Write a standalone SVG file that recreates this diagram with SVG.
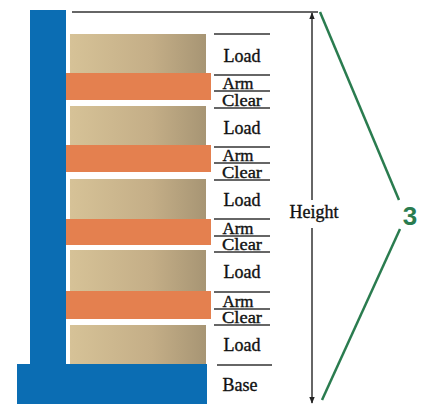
<svg xmlns="http://www.w3.org/2000/svg" width="434" height="404" viewBox="0 0 434 404">
  <defs>
    <linearGradient id="loadFill" x1="0" y1="0" x2="1" y2="0">
      <stop offset="0" stop-color="#d6c297"/>
      <stop offset="0.6" stop-color="#c4ae87"/>
      <stop offset="1" stop-color="#a79574"/>
    </linearGradient>
    <marker id="arrow" viewBox="0 0 10 10" refX="9" refY="5" markerWidth="7" markerHeight="7" orient="auto-start-reverse" markerUnits="userSpaceOnUse">
      <path d="M0,1 L10,5 L0,9 Z" fill="#222"/>
    </marker>
  </defs>
  <style>
    .mast { fill: #0b6db3; }
    .load { fill: url(#loadFill); }
    .arm { fill: #e4804f; }
    .rule { stroke: #333; stroke-width: 1.5; fill: none; }
    .lbl { font-family: "Liberation Serif", "DejaVu Serif", serif; fill: #111; stroke: #111; stroke-width: 0.35; text-anchor: middle; }
    .big { font-size: 18px; }
    .small { font-size: 16px; }
    .brace { stroke: #2a7c4f; stroke-width: 2.5; fill: none; }
    .num { font-family: "Liberation Sans", Arial, sans-serif; font-weight: bold; font-size: 26px; fill: #2a7c4f; text-anchor: middle; }
  </style>

  <rect width="434" height="404" fill="#ffffff"/>

  <!-- rack frame: mast and base -->
  <g id="frame">
    <rect class="mast" x="30" y="10" width="36" height="394"/>
    <rect class="mast" x="17" y="364" width="190" height="40"/>
  </g>

  <!-- loads and arms, top to bottom -->
  <g id="load1"><rect class="load" x="70" y="34" width="136" height="39"/></g>
  <g id="arm1"><rect class="arm" x="66" y="73" width="145" height="27"/></g>
  <g id="load2"><rect class="load" x="70" y="106" width="136" height="39"/></g>
  <g id="arm2"><rect class="arm" x="66" y="145" width="145" height="27"/></g>
  <g id="load3"><rect class="load" x="70" y="179" width="136" height="40"/></g>
  <g id="arm3"><rect class="arm" x="66" y="219" width="145" height="26"/></g>
  <g id="load4"><rect class="load" x="70" y="250" width="136" height="41"/></g>
  <g id="arm4"><rect class="arm" x="66" y="291" width="145" height="28"/></g>
  <g id="load5"><rect class="load" x="70" y="325" width="136" height="39"/></g>

  <!-- level labels -->
  <g id="labels">
    <line class="rule" x1="214" y1="34" x2="270" y2="34"/>
    <text class="lbl big" x="242" y="62">Load</text>
    <line class="rule" x1="214" y1="75" x2="270" y2="75"/>
    <text class="lbl small" x="238" y="89" textLength="31" lengthAdjust="spacingAndGlyphs">Arm</text>
    <line class="rule" x1="214" y1="91" x2="270" y2="91"/>
    <text class="lbl small" x="242" y="106" textLength="40" lengthAdjust="spacingAndGlyphs">Clear</text>
    <line class="rule" x1="214" y1="108" x2="270" y2="108"/>

    <text class="lbl big" x="242" y="134">Load</text>
    <line class="rule" x1="214" y1="147" x2="270" y2="147"/>
    <text class="lbl small" x="238" y="161" textLength="31" lengthAdjust="spacingAndGlyphs">Arm</text>
    <line class="rule" x1="214" y1="163" x2="270" y2="163"/>
    <text class="lbl small" x="242" y="178" textLength="40" lengthAdjust="spacingAndGlyphs">Clear</text>
    <line class="rule" x1="214" y1="180" x2="270" y2="180"/>

    <text class="lbl big" x="242" y="206">Load</text>
    <line class="rule" x1="214" y1="219" x2="270" y2="219"/>
    <text class="lbl small" x="238" y="234" textLength="31" lengthAdjust="spacingAndGlyphs">Arm</text>
    <line class="rule" x1="214" y1="236" x2="270" y2="236"/>
    <text class="lbl small" x="242" y="250" textLength="40" lengthAdjust="spacingAndGlyphs">Clear</text>
    <line class="rule" x1="214" y1="252" x2="270" y2="252"/>

    <text class="lbl big" x="242" y="278">Load</text>
    <line class="rule" x1="214" y1="292" x2="270" y2="292"/>
    <text class="lbl small" x="238" y="307" textLength="31" lengthAdjust="spacingAndGlyphs">Arm</text>
    <line class="rule" x1="214" y1="309" x2="270" y2="309"/>
    <text class="lbl small" x="242" y="323" textLength="40" lengthAdjust="spacingAndGlyphs">Clear</text>
    <line class="rule" x1="214" y1="325" x2="270" y2="325"/>

    <text class="lbl big" x="242" y="351">Load</text>
    <line class="rule" x1="217" y1="365" x2="272" y2="365"/>
    <text class="lbl big" x="240" y="391">Base</text>
  </g>

  <!-- overall height dimension -->
  <g id="connectors">
    <line class="rule" x1="72" y1="12" x2="318" y2="12"/>
    <line class="rule" x1="312" y1="200" x2="312" y2="13" marker-end="url(#arrow)"/>
    <line class="rule" x1="312" y1="228" x2="312" y2="403" marker-end="url(#arrow)"/>
    <polyline class="brace" points="320,12 399,200"/>
    <polyline class="brace" points="400,229 322,400"/>
  </g>

  <g id="height">
    <text class="lbl big" x="314" y="218">Height</text>
  </g>
  <g id="callout">
    <text class="num" x="410" y="225">3</text>
  </g>
</svg>
